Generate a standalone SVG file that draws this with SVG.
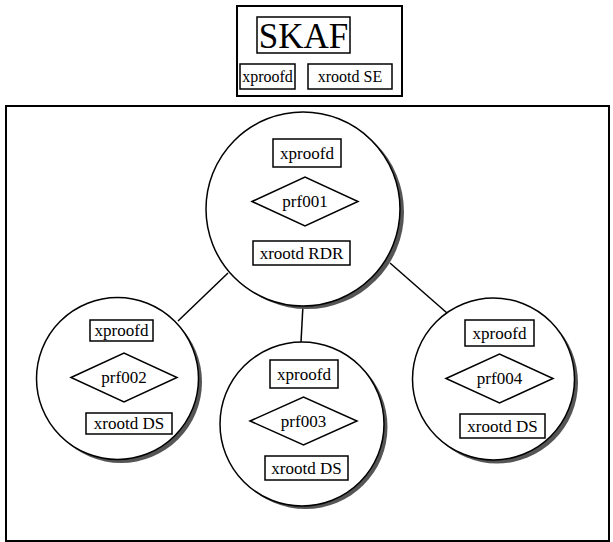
<svg xmlns="http://www.w3.org/2000/svg" width="613" height="542" viewBox="0 0 613 542">
<style>
.frame{fill:none;stroke:#000;stroke-width:2}
.box{fill:#fff;stroke:#000;stroke-width:1.5}
.circ{fill:#fff;stroke:#000;stroke-width:1.5}
.shadow{fill:#555}
.conn{stroke:#000;stroke-width:1.5;fill:none}
text{font-family:"Liberation Serif","DejaVu Serif",serif;font-size:17px;fill:#000;text-anchor:middle;dominant-baseline:central}
.big{font-size:35px}
.sm{font-size:16px}
</style>
<rect width="613" height="542" fill="#fff"/>
<g id="skaf">
<rect class="frame" x="237" y="6" width="165" height="90"/>
<rect class="box" x="257" y="17" width="93" height="36"/>
<text class="big" x="303.500" y="36">SKAF</text>
<rect class="box" x="240" y="64" width="55" height="25"/>
<text class="sm" x="267.500" y="76.500">xproofd</text>
<rect class="box" x="308" y="64" width="84" height="25"/>
<text class="sm" x="350" y="76.500">xrootd SE</text>
</g>
<g id="cluster">
<rect class="frame" x="6" y="106" width="603" height="435"/>
</g>
<g id="connectors">
<line class="conn" x1="228" y1="273" x2="178" y2="321"/>
<line class="conn" x1="303" y1="305" x2="301" y2="342"/>
<line class="conn" x1="390" y1="263" x2="447" y2="313"/>
</g>
<g id="prf001">
<circle class="shadow" cx="307" cy="212" r="97"/>
<circle class="circ" cx="303" cy="209" r="97"/>
<rect class="box" x="273" y="139" width="68" height="28"/>
<text x="307" y="153">xproofd</text>
<polygon class="box" points="252,201.500 305,177 358,201.500 305,226"/>
<text x="305" y="201.500">prf001</text>
<rect class="box" x="253" y="241" width="97" height="24"/>
<text x="301.500" y="253">xrootd RDR</text>
</g>
<g id="prf002">
<circle class="shadow" cx="121" cy="382" r="81"/>
<circle class="circ" cx="117.500" cy="378.500" r="81"/>
<rect class="box" x="90" y="320" width="63" height="21"/>
<text x="121.500" y="330.500">xproofd</text>
<polygon class="box" points="71,377.500 124,353 177,377.500 124,402"/>
<text x="124" y="377.500">prf002</text>
<rect class="box" x="86" y="413" width="86" height="21"/>
<text x="129" y="423.500">xrootd DS</text>
</g>
<g id="prf003">
<circle class="shadow" cx="305.500" cy="427" r="82"/>
<circle class="circ" cx="302" cy="424" r="82"/>
<rect class="box" x="270" y="360" width="68" height="28"/>
<text x="304" y="374">xproofd</text>
<polygon class="box" points="250,421 303.500,397 357,421 303.500,445"/>
<text x="303.500" y="421">prf003</text>
<rect class="box" x="265" y="456" width="83" height="24"/>
<text x="306.500" y="468">xrootd DS</text>
</g>
<g id="prf004">
<circle class="shadow" cx="497" cy="382.500" r="81"/>
<circle class="circ" cx="493.500" cy="379" r="81"/>
<rect class="box" x="465" y="320" width="69" height="26"/>
<text x="499.500" y="333">xproofd</text>
<polygon class="box" points="446,378.500 499.500,354 553,378.500 499.500,403"/>
<text x="499.500" y="378.500">prf004</text>
<rect class="box" x="460" y="414" width="85" height="24"/>
<text x="502.500" y="426">xrootd DS</text>
</g>
</svg>
